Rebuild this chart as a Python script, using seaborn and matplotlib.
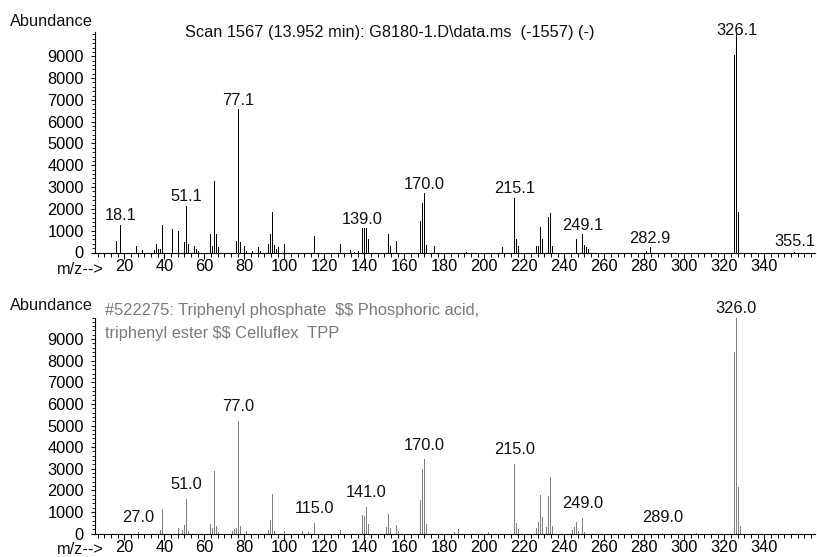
import matplotlib
matplotlib.use("Agg")
import numpy as np
import pandas as pd
import matplotlib.pyplot as plt
import seaborn as sns
from matplotlib.ticker import FixedLocator, NullFormatter

# ---------------- data ----------------
scan_mz = [16, 18, 26, 29, 35, 36, 37, 38, 39, 44, 47, 50, 51, 52, 55, 56, 57,
           63, 64, 65, 66, 67, 76, 77, 78, 80, 81, 84, 87, 88, 92, 93, 94, 95,
           96, 97, 100, 115, 128, 133, 135, 137, 139, 140, 141, 142, 152, 153,
           156, 168, 169, 170, 171, 175, 191, 209, 215, 216, 217, 226, 227,
           228, 229, 232, 233, 234, 246, 249, 250, 251, 252, 281, 283, 325,
           326, 327, 355]
scan_ab = [550, 1280, 306, 120, 120, 400, 170, 180, 1240, 1100, 970, 500, 2150,
           400, 300, 180, 90, 826, 305, 3260, 826, 275, 505, 6560, 460, 305,
           90, 90, 260, 90, 410, 865, 1840, 350, 180, 275, 410, 765, 400, 120,
           45, 60, 1110, 1110, 1110, 600, 855, 305, 505, 1430, 2290, 2720, 350,
           305, 45, 260, 2520, 625, 305, 305, 305, 1190, 610, 1650, 1790, 305,
           600, 840, 350, 245, 150, 90, 245, 9080, 10000, 1880, 20]

lib_mz = [27, 38, 39, 47, 49, 50, 51, 52, 63, 64, 65, 66, 67, 74, 75, 76, 77,
          78, 81, 92, 93, 94, 95, 100, 109, 112, 115, 128, 139, 140, 141, 142,
          151, 152, 153, 156, 157, 168, 169, 170, 171, 185, 187, 202, 215, 216,
          217, 226, 227, 228, 229, 231, 232, 233, 234, 244, 245, 246, 247, 249,
          250, 289, 306, 325, 326, 327, 328]
lib_ab = [60, 180, 1150, 275, 150, 400, 1600, 120, 440, 260, 2900, 350, 90,
          120, 200, 245, 5200, 350, 100, 180, 640, 1820, 120, 120, 100, 60,
          490, 150, 855, 810, 1220, 440, 305, 900, 275, 400, 120, 1570, 2980,
          3435, 440, 90, 215, 90, 3240, 490, 230, 275, 535, 1800, 765, 305,
          1755, 2610, 350, 150, 300, 535, 100, 730, 80, 30, 40, 8400, 10000,
          2150, 360]

scan_label_mz = [18, 51, 77, 139, 170, 215, 249, 283, 326, 355]
scan_label_txt = ["18.1", "51.1", "77.1", "139.0", "170.0", "215.1", "249.1",
                  "282.9", "326.1", "355.1"]
lib_label_mz = [27, 51, 77, 115, 141, 170, 215, 249, 289, 326]
lib_label_txt = ["27.0", "51.0", "77.0", "115.0", "141.0", "170.0", "215.0",
                 "249.0", "289.0", "326.0"]

x_major = list(range(20, 341, 20))
y_major = list(range(0, 9001, 1000))

title_txt = r"Scan 1567 (13.952 min): G8180-1.D\data.ms  (-1557) (-)"
lib_line1 = "#522275: Triphenyl phosphate  $$ Phosphoric acid,"
lib_line2 = "triphenyl ester $$ Celluflex  TPP"

# ---------------- style ----------------
sns.set_theme(style="ticks")
plt.rcParams['font.family'] = ['Liberation Sans', 'DejaVu Sans']
FS = 11.8

W, H = 817, 557
fig = plt.figure(figsize=(W / 100, H / 100), dpi=100)
ax1 = fig.add_axes([95 / W, (H - 252.5) / H, 720 / W, 220.2 / H])
ax2 = fig.add_axes([95 / W, (H - 533.5) / H, 720 / W, 216.0 / H])

XLIM = (5.35, 365.35)
minor_x = [v for v in np.arange(20 / 6, 366, 20 / 6) if XLIM[0] < v < XLIM[1]]
minor_y = list(range(0, 10001, 200))


def draw(ax, mz, ab, color, ymax, lab_mz, lab_txt, off, yclip):
    df = pd.DataFrame({"mz": mz, "ab": ab})
    sns.histplot(data=df, x="mz", weights="ab", discrete=True, shrink=0.65,
                 color=color, alpha=1, linewidth=0, ax=ax)
    ax.set_xlim(*XLIM)
    ax.set_ylim(0, ymax)
    ax.set_xlabel("")
    ax.set_ylabel("")
    sns.despine(ax=ax)
    for s in ("left", "bottom"):
        ax.spines[s].set_linewidth(0.8)
        ax.spines[s].set_color("black")
    ax.xaxis.set_major_locator(FixedLocator(x_major))
    ax.xaxis.set_minor_locator(FixedLocator(minor_x))
    ax.yaxis.set_major_locator(FixedLocator(y_major))
    ax.yaxis.set_minor_locator(FixedLocator([v for v in minor_y if v <= ymax]))
    ax.xaxis.set_minor_formatter(NullFormatter())
    ax.set_xticklabels([str(v) for v in x_major], fontsize=FS)
    ax.set_yticklabels([str(v) for v in y_major], fontsize=FS)
    ax.tick_params(axis="x", which="major", length=4.2, width=0.8, pad=0.6,
                   colors="black", direction="out")
    ax.tick_params(axis="x", which="minor", length=2.6, width=0.7,
                   colors="black", direction="out")
    ax.tick_params(axis="y", which="major", length=3.0, width=0.8, pad=5.0,
                   colors="black", direction="out")
    ax.tick_params(axis="y", which="minor", length=2.0, width=0.6,
                   colors="black", direction="out")
    lookup = dict(zip(mz, ab))
    for m, t in zip(lab_mz, lab_txt):
        h = lookup.get(m, 0)
        anchor = min(max(h, 100), yclip)
        ax.annotate(t, xy=(float(t), anchor), xytext=(0, off),
                    textcoords="offset points", ha="center", va="baseline",
                    fontsize=FS, color="#111111", annotation_clip=False)


draw(ax1, scan_mz, scan_ab, "black", 10100, scan_label_mz, scan_label_txt,
     3.0, 9800)
draw(ax2, lib_mz, lib_ab, "#808080", 10000, lib_label_mz, lib_label_txt,
     7.0, 9750)

# ---------------- texts ----------------
fig.text(10 / W, (H - 21) / H, "Abundance", fontsize=FS, ha="left",
         va="center", color="#111111")
fig.text(10 / W, (H - 305) / H, "Abundance", fontsize=FS, ha="left",
         va="center", color="#111111")
fig.text(57 / W, (H - 269.5) / H, "m/z-->", fontsize=FS, ha="left",
         va="center", color="#111111")
fig.text(57 / W, (H - 549) / H, "m/z-->", fontsize=FS, ha="left",
         va="center", color="#111111")
fig.text(389.5 / W, (H - 32.5) / H, title_txt, fontsize=FS, ha="center",
         va="center", color="#111111")
fig.text(105 / W, (H - 311) / H, lib_line1, fontsize=FS, ha="left",
         va="center", color="#7a7a7a", parse_math=False)
fig.text(105 / W, (H - 333.7) / H, lib_line2, fontsize=FS, ha="left",
         va="center", color="#7a7a7a", parse_math=False)

fig.savefig("out.png", dpi=100)
